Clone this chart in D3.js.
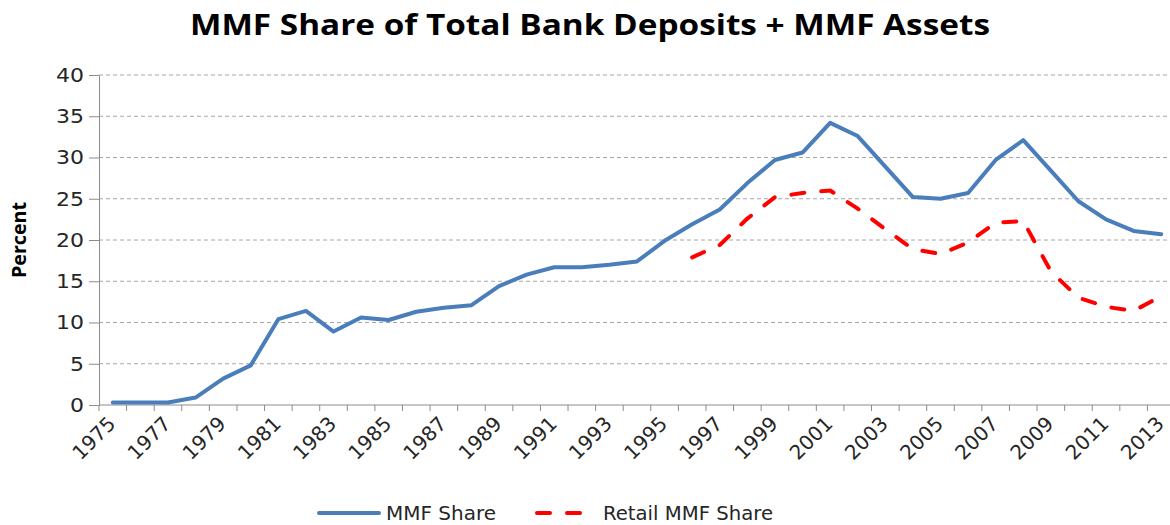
<!DOCTYPE html>
<html>
<head>
<meta charset="utf-8">
<script src="https://cdn.jsdelivr.net/npm/d3@7"></script>
<style>
  html, body { margin: 0; padding: 0; background: #fff; }
  svg { display: block; font-family: "DejaVu Sans", Verdana, sans-serif; }
  .grid line { stroke: #a6a6a6; stroke-dasharray: 4,3; }
  .axis path, .axis line { stroke: #8c8c8c; }
  .axis text { fill: #262626; }
</style>
</head>
<body>
<div id="chart"></div>
<script>
// Category years and series (percent)
const years = [1975, 1976, 1977, 1978, 1979, 1980, 1981, 1982, 1983, 1984,
  1985, 1986, 1987, 1988, 1989, 1990, 1991, 1992, 1993, 1994,
  1995, 1996, 1997, 1998, 1999, 2000, 2001, 2002, 2003, 2004,
  2005, 2006, 2007, 2008, 2009, 2010, 2011, 2012, 2013];

const mmfShare = [0.3, 0.3, 0.3, 0.9, 3.2, 4.8, 10.4, 11.4, 8.9, 10.6,
  10.3, 11.3, 11.8, 12.1, 14.4, 15.8, 16.7, 16.7, 17.0, 17.4,
  19.9, 21.9, 23.7, 26.9, 29.7, 30.6, 34.2, 32.6, 28.9, 25.2,
  25.0, 25.7, 29.7, 32.1, 28.4, 24.7, 22.5, 21.1, 20.7];

const retailYears = [1996, 1997, 1998, 1999, 2000, 2001, 2002, 2003, 2004,
  2005, 2006, 2007, 2008, 2009, 2010, 2011, 2012, 2013];
const retailShare = [17.9, 19.4, 22.6, 25.2, 25.7, 26.0, 23.8, 21.3, 18.9,
  18.3, 19.7, 22.1, 22.3, 16.2, 13.0, 11.9, 11.4, 13.2];

const yTicks = [0, 5, 10, 15, 20, 25, 30, 35, 40];

const W = 1170, H = 525;
const M = { top: 75, right: -5, bottom: 120, left: 99 };
const innerW = W - M.left - M.right;
const innerH = H - M.top - M.bottom;

const BLUE = '#4a7ebb';
const RED = '#ff0000';

const svg = d3.select('#chart').append('svg')
  .attr('width', W)
  .attr('height', H);

const g = svg.append('g')
  .attr('transform', `translate(${M.left},${M.top})`);

const x = d3.scaleBand().domain(years).range([0, innerW]).padding(0);
const y = d3.scaleLinear().domain([0, 40]).range([innerH, 0]);
const cx = yr => x(yr) + x.bandwidth() / 2;

// Gridlines
g.append('g')
  .attr('class', 'grid')
  .selectAll('line')
  .data(yTicks.filter(d => d > 0))
  .join('line')
  .attr('x1', 0)
  .attr('x2', innerW)
  .attr('y1', d => y(d))
  .attr('y2', d => y(d));

// Y axis
const yAxis = g.append('g')
  .attr('class', 'axis')
  .call(d3.axisLeft(y).tickValues(yTicks).tickSize(10).tickPadding(5).tickSizeOuter(0));
yAxis.selectAll('text')
  .attr('font-size', 20)
  .attr('font-family', '"DejaVu Sans", sans-serif')
  .attr('textLength', function () { return this.textContent.length * 14; })
  .attr('lengthAdjust', 'spacingAndGlyphs');

// X axis: baseline, boundary ticks, rotated labels on every other year
const xAxis = g.append('g')
  .attr('class', 'axis')
  .attr('transform', `translate(0,${innerH})`);

xAxis.append('line')
  .attr('x1', 0).attr('x2', innerW)
  .attr('y1', 0).attr('y2', 0);

xAxis.selectAll('line.tick')
  .data(years)
  .join('line')
  .attr('class', 'tick')
  .attr('x1', d => x(d))
  .attr('x2', d => x(d))
  .attr('y1', 0)
  .attr('y2', 6);

xAxis.selectAll('text')
  .data(years.filter((d, i) => i % 2 === 0))
  .join('text')
  .attr('text-anchor', 'end')
  .attr('font-size', 20)
  .attr('transform', d => `translate(${cx(d) - 1},${15}) rotate(-45)`)
  .attr('dy', '0.35em')
  .text(d => d);

// Lines
const line = d3.line()
  .x(d => cx(d.year))
  .y(d => y(d.value));

g.append('path')
  .datum(years.map((yr, i) => ({ year: yr, value: mmfShare[i] })))
  .attr('fill', 'none')
  .attr('stroke', BLUE)
  .attr('stroke-width', 4)
  .attr('stroke-linejoin', 'round')
  .attr('stroke-linecap', 'round')
  .attr('d', line);

g.append('path')
  .datum(retailYears.map((yr, i) => ({ year: yr, value: retailShare[i] })))
  .attr('fill', 'none')
  .attr('stroke', RED)
  .attr('stroke-width', 4)
  .attr('stroke-dasharray', '13,17')
  .attr('stroke-linejoin', 'round')
  .attr('stroke-linecap', 'round')
  .attr('d', line);

// Title
svg.append('text')
  .attr('x', 590)
  .attr('y', 35)
  .attr('text-anchor', 'middle')
  .attr('font-family', '"Open Sans", sans-serif')
  .attr('font-weight', 'bold')
  .attr('font-size', 28)
  .attr('textLength', 800)
  .attr('lengthAdjust', 'spacingAndGlyphs')
  .attr('fill', '#000')
  .text('MMF Share of Total Bank Deposits + MMF Assets');

// Y label
svg.append('text')
  .attr('transform', 'translate(26,240) rotate(-90)')
  .attr('text-anchor', 'middle')
  .attr('font-family', '"Open Sans", sans-serif')
  .attr('font-weight', 'bold')
  .attr('font-size', 20)
  .attr('textLength', 76)
  .attr('lengthAdjust', 'spacingAndGlyphs')
  .attr('fill', '#000')
  .text('Percent');

// Legend
const legend = svg.append('g').attr('transform', 'translate(0,513)');
legend.append('line')
  .attr('x1', 319).attr('x2', 379).attr('y1', 0).attr('y2', 0)
  .attr('stroke', BLUE).attr('stroke-width', 4).attr('stroke-linecap', 'round');
legend.append('text')
  .attr('x', 386).attr('y', 0).attr('dy', '0.35em')
  .attr('font-size', 20).attr('fill', '#262626')
  .attr('textLength', 110).attr('lengthAdjust', 'spacingAndGlyphs')
  .text('MMF Share');
legend.append('line')
  .attr('x1', 537).attr('x2', 582).attr('y1', 0).attr('y2', 0)
  .attr('stroke', RED).attr('stroke-width', 4)
  .attr('stroke-dasharray', '13,17').attr('stroke-linecap', 'round');
legend.append('text')
  .attr('x', 603).attr('y', 0).attr('dy', '0.35em')
  .attr('font-size', 20).attr('fill', '#262626')
  .attr('textLength', 170).attr('lengthAdjust', 'spacingAndGlyphs')
  .text('Retail MMF Share');
</script>
</body>
</html>
